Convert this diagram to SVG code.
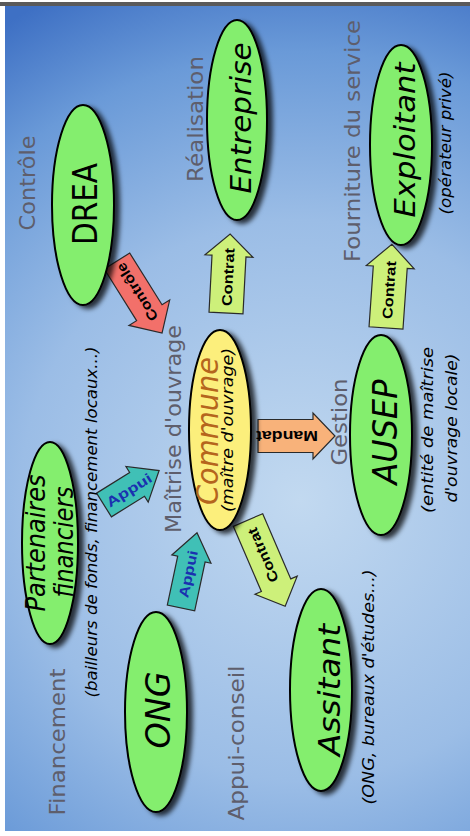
<svg xmlns="http://www.w3.org/2000/svg" width="470" height="836" viewBox="0 0 470 836">
  <defs>
    <radialGradient id="bg" gradientUnits="userSpaceOnUse" cx="300" cy="500" r="560">
      <stop offset="0" stop-color="#c2d9f0"/>
      <stop offset="0.5" stop-color="#9bbde6"/>
      <stop offset="0.8" stop-color="#6a9ad8"/>
      <stop offset="1" stop-color="#3e70c4"/>
    </radialGradient>
    <filter id="shadow" x="-30%" y="-30%" width="160%" height="160%">
      <feDropShadow dx="5" dy="3" stdDeviation="2.5" flood-color="#000" flood-opacity="0.75"/>
    </filter>
    <style>
      .ell { fill:#84ee6e; stroke:#000; stroke-width:2; filter:url(#shadow); }
      .ell-y { fill:#fcef7c; stroke:#000; stroke-width:2; filter:url(#shadow); }
      .lbl { font-family:"DejaVu Sans","Liberation Sans",sans-serif; font-size:22px; fill:#5e5e6c; text-anchor:middle; }
      .nt { font-family:"DejaVu Sans","Liberation Sans",sans-serif; font-style:italic; fill:#000; text-anchor:middle; }
      .note { font-family:"DejaVu Sans","Liberation Sans",sans-serif; font-style:italic; font-size:15px; fill:#000; text-anchor:middle; }
      .arr { stroke:#2a2a2a; stroke-width:1.2; stroke-linejoin:miter; }
      .at { font-family:"Liberation Sans","DejaVu Sans",sans-serif; font-weight:bold; font-size:14px; fill:#000; text-anchor:middle; dominant-baseline:central; }
      .ab { fill:#1a30b0; }
    </style>
  </defs>

  <rect x="0" y="0" width="470" height="836" fill="#ffffff"/>
  <rect x="5" y="6" width="465" height="825" fill="url(#bg)"/>
  <rect x="0" y="2" width="470" height="4" fill="#5a5a5a"/>

  <g id="labels">
    <text class="lbl" transform="translate(35,183) rotate(-90)" textLength="95" lengthAdjust="spacingAndGlyphs">Contrôle</text>
    <text class="lbl" transform="translate(203,119) rotate(-90)" textLength="126" lengthAdjust="spacingAndGlyphs">Réalisation</text>
    <text class="lbl" transform="translate(360,141) rotate(-90)" textLength="242" lengthAdjust="spacingAndGlyphs">Fourniture du service</text>
    <text class="lbl" transform="translate(181,429) rotate(-90)" textLength="208" lengthAdjust="spacingAndGlyphs">Maîtrise d'ouvrage</text>
    <text class="lbl" transform="translate(347,422) rotate(-90)" textLength="87" lengthAdjust="spacingAndGlyphs">Gestion</text>
    <text class="lbl" transform="translate(65,742) rotate(-90)" textLength="147" lengthAdjust="spacingAndGlyphs">Financement</text>
    <text class="lbl" transform="translate(244,743) rotate(-90)" textLength="155" lengthAdjust="spacingAndGlyphs">Appui-conseil</text>
  </g>

  <g id="connectors">
    <g id="arrow-controle">
      <path class="arr" fill="#f2706a" transform="translate(117,261) rotate(58)" d="M0,-15 L61,-15 L61,-24 L85,0 L61,24 L61,15 L0,15 Z"/>
      <text class="at" transform="translate(137,292) rotate(-122)" textLength="66" lengthAdjust="spacingAndGlyphs">Contrôle</text>
    </g>
    <g id="arrow-contrat-entreprise">
      <path class="arr" fill="#cdf07a" transform="translate(226,313) rotate(-87)" d="M0,-17 L57,-17 L57,-24 L79,0 L57,24 L57,17 L0,17 Z"/>
      <text class="at" transform="translate(228,277) rotate(-87)" textLength="58" lengthAdjust="spacingAndGlyphs">Contrat</text>
    </g>
    <g id="arrow-contrat-exploitant">
      <path class="arr" fill="#cdf07a" transform="translate(386,328) rotate(-86)" d="M0,-17 L61,-17 L61,-24 L84,0 L61,24 L61,17 L0,17 Z"/>
      <text class="at" transform="translate(389,290) rotate(-86)" textLength="58" lengthAdjust="spacingAndGlyphs">Contrat</text>
    </g>
    <g id="arrow-appui-partenaires">
      <path class="arr" fill="#40c0b6" transform="translate(104,505) rotate(-32)" d="M0,-14 L39,-14 L39,-21 L65,0 L39,21 L39,14 L0,14 Z"/>
      <text class="at ab" transform="translate(129,490) rotate(-32)" textLength="51" lengthAdjust="spacingAndGlyphs">Appui</text>
    </g>
    <g id="arrow-appui-ong">
      <path class="arr" fill="#40c0b6" transform="translate(181,608) rotate(-78)" d="M0,-14 L50,-14 L50,-20 L77,0 L50,20 L50,14 L0,14 Z"/>
      <text class="at ab" transform="translate(188,574) rotate(-78)" textLength="48" lengthAdjust="spacingAndGlyphs">Appui</text>
    </g>
    <g id="arrow-contrat-assitant">
      <path class="arr" fill="#cdf07a" transform="translate(248,520) rotate(66.7)" d="M0,-16 L71,-16 L71,-23 L94,0 L71,23 L71,16 L0,16 Z"/>
      <text class="at" transform="translate(263,555) rotate(-113.3)" textLength="58" lengthAdjust="spacingAndGlyphs">Contrat</text>
    </g>
    <g id="arrow-mandat">
      <path class="arr" fill="#f8b27a" transform="translate(258,436)" d="M0,-16.5 L55,-16.5 L55,-23 L77,0 L55,23 L55,16.5 L0,16.5 Z"/>
      <text class="at" transform="translate(287,436) rotate(180)" textLength="62" lengthAdjust="spacingAndGlyphs">Mandat</text>
    </g>
  </g>

  <g id="node-drea">
    <ellipse class="ell" cx="83" cy="205" rx="31" ry="100"/>
    <text class="nt" style="font-style:normal" font-size="34" transform="translate(97,204) rotate(-90)" textLength="82" lengthAdjust="spacingAndGlyphs">DREA</text>
  </g>
  <g id="node-entreprise">
    <ellipse class="ell" cx="237" cy="120" rx="30" ry="100"/>
    <text class="nt" font-size="28" transform="translate(251,118) rotate(-90)" textLength="151" lengthAdjust="spacingAndGlyphs">Entreprise</text>
  </g>
  <g id="node-exploitant">
    <ellipse class="ell" cx="401" cy="145" rx="31" ry="100"/>
    <text class="nt" font-size="28" transform="translate(415,140) rotate(-90)" textLength="155" lengthAdjust="spacingAndGlyphs">Exploitant</text>
    <text class="note" transform="translate(451,143) rotate(-90)" textLength="143" lengthAdjust="spacingAndGlyphs">(opérateur privé)</text>
  </g>
  <g id="node-commune">
    <ellipse class="ell-y" cx="220" cy="430" rx="31" ry="100"/>
    <text class="nt" font-size="30" fill="#b5651d" style="fill:#b5651d" transform="translate(218,431) rotate(-90)" textLength="148" lengthAdjust="spacingAndGlyphs">Commune</text>
    <text class="note" font-size="16" style="font-size:16px" transform="translate(233,430) rotate(-90)" textLength="164" lengthAdjust="spacingAndGlyphs">(maître d'ouvrage)</text>
  </g>
  <g id="node-ausep">
    <ellipse class="ell" cx="381" cy="435" rx="31" ry="100"/>
    <text class="nt" font-size="34" transform="translate(397,432) rotate(-90)" textLength="105" lengthAdjust="spacingAndGlyphs">AUSEP</text>
    <text class="note" style="font-size:16px" transform="translate(433,430) rotate(-90)" textLength="166" lengthAdjust="spacingAndGlyphs">(entité de maîtrise</text>
    <text class="note" style="font-size:16px" transform="translate(457,428) rotate(-90)" textLength="149" lengthAdjust="spacingAndGlyphs">d'ouvrage locale)</text>
  </g>
  <g id="node-partenaires">
    <ellipse class="ell" cx="50" cy="543" rx="28" ry="101"/>
    <text class="nt" font-size="26" transform="translate(45,543) rotate(-90)" textLength="137" lengthAdjust="spacingAndGlyphs">Partenaires</text>
    <text class="nt" font-size="26" transform="translate(73,542) rotate(-90)" textLength="111" lengthAdjust="spacingAndGlyphs">financiers</text>
    <text class="note" transform="translate(97,522) rotate(-90)" textLength="351" lengthAdjust="spacingAndGlyphs">(bailleurs de fonds, financement locaux...)</text>
  </g>
  <g id="node-ong">
    <ellipse class="ell" cx="156" cy="712" rx="31" ry="100"/>
    <text class="nt" font-size="34" transform="translate(170,710) rotate(-90)" textLength="77" lengthAdjust="spacingAndGlyphs">ONG</text>
  </g>
  <g id="node-assitant">
    <ellipse class="ell" cx="321" cy="690" rx="31" ry="101"/>
    <text class="nt" font-size="30" transform="translate(340,690) rotate(-90)" textLength="132" lengthAdjust="spacingAndGlyphs">Assitant</text>
    <text class="note" transform="translate(374,687) rotate(-90)" textLength="235" lengthAdjust="spacingAndGlyphs">(ONG, bureaux d'études...)</text>
  </g>
</svg>
